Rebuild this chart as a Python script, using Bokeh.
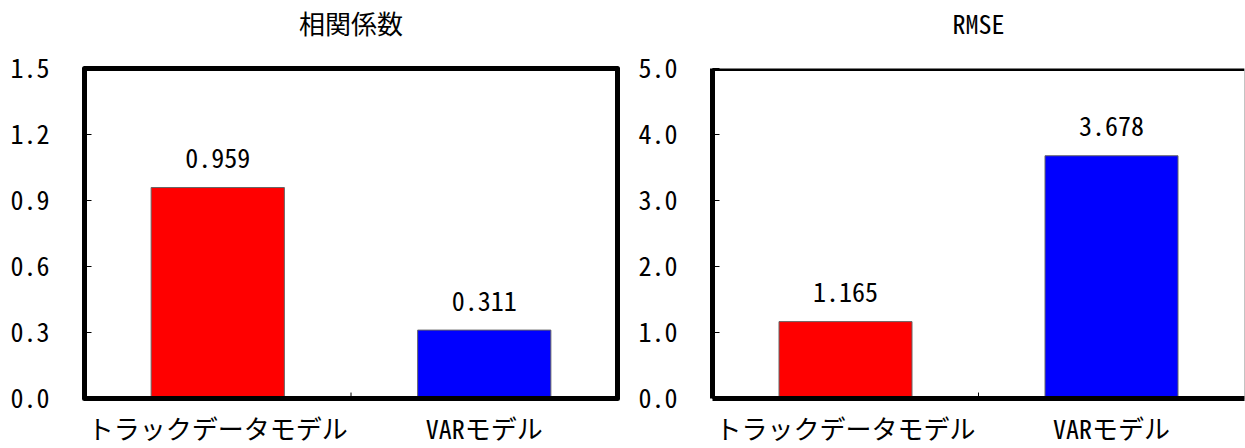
from bokeh.plotting import figure
from bokeh.layouts import row, column
from bokeh.models import (ColumnDataSource, FactorRange, Range1d, FixedTicker,
                          PrintfTickFormatter, Span)
from bokeh.transform import dodge
from bokeh.core.properties import value
from bokeh.embed import file_html
from bokeh.resources import INLINE

# Model names and scores
models = ["トラックデータモデル", "VARモデル"]
corr_values = [0.959, 0.311]
rmse_values = [1.165, 3.678]
bar_colors = ["#ff0000", "#0000ff"]

# Axis ticks for each panel
corr_ticks = [0.0, 0.3, 0.6, 0.9, 1.2, 1.5]
rmse_ticks = [0.0, 1.0, 2.0, 3.0, 4.0, 5.0]

FONT = "Noto Sans Mono CJK JP, Noto Sans CJK JP"
SIZE = "26px"
HEADING_H = 44          # strip holding each panel heading
PLOT_H = 448 - HEADING_H
FRAME_TOP = 68 - HEADING_H
FRAME_BOTTOM = 47


def heading(title, width, border_left, border_right):
    h = figure(x_range=Range1d(0, 1), y_range=Range1d(0, HEADING_H),
               width=width, height=HEADING_H, output_backend="svg",
               toolbar_location=None, x_axis_location=None,
               y_axis_location=None,
               min_border_left=border_left, min_border_right=border_right,
               min_border_top=0, min_border_bottom=0)
    h.outline_line_color = None
    h.grid.visible = False
    h.background_fill_color = "white"
    h.border_fill_color = "white"
    h.text(x=[0.5], y=[HEADING_H / 2], text=[title],
           text_align="center", text_baseline="middle",
           text_font=value(FONT), text_font_size=SIZE, text_color="black")
    return h


def panel(values, ticks, width, border_left, border_right, closed_frame):
    ymax = ticks[-1]
    p = figure(x_range=FactorRange(*models), y_range=Range1d(0, ymax),
               width=width, height=PLOT_H, output_backend="svg",
               toolbar_location=None,
               min_border_left=border_left, min_border_right=border_right,
               min_border_top=FRAME_TOP, min_border_bottom=FRAME_BOTTOM)
    p.background_fill_color = "white"
    p.border_fill_color = "white"
    p.grid.visible = False

    src = ColumnDataSource(dict(
        model=models,
        value=values,
        color=bar_colors,
        label=["%.3f" % v for v in values],
    ))
    p.vbar(x="model", top="value", width=0.5, source=src,
           fill_color="color", line_color="#666666", line_width=1)
    p.text(x="model", y="value", text="label", source=src,
           text_align="center", text_baseline="alphabetic", y_offset=-29,
           text_font=value(FONT), text_font_size=SIZE, text_color="black")

    # short tick marking the boundary between the two categories
    frame_h = PLOT_H - FRAME_TOP - FRAME_BOTTOM
    tick_len = 6 * ymax / frame_h
    tsrc = ColumnDataSource(dict(x=models[:-1], y0=[0.0] * (len(models) - 1),
                                 y1=[tick_len] * (len(models) - 1)))
    p.segment(x0=dodge("x", 0.5, range=p.x_range), y0="y0",
              x1=dodge("x", 0.5, range=p.x_range), y1="y1",
              source=tsrc, line_color="black", line_width=1)

    # y axis
    ya = p.yaxis[0]
    ya.ticker = FixedTicker(ticks=ticks)
    ya.formatter = PrintfTickFormatter(format="%.1f")
    ya.major_label_text_font = FONT
    ya.major_label_text_font_size = SIZE
    ya.major_label_text_color = "black"
    ya.major_label_standoff = 35
    ya.major_tick_in = 7
    ya.major_tick_out = 0
    ya.major_tick_line_color = "black"
    ya.minor_tick_in = 0
    ya.minor_tick_out = 0
    ya.axis_line_width = 5
    ya.axis_line_color = "black"

    # x axis
    xa = p.xaxis[0]
    xa.major_label_text_font = FONT
    xa.major_label_text_font_size = SIZE
    xa.major_label_text_color = "black"
    xa.major_label_standoff = 10
    xa.major_tick_in = 0
    xa.major_tick_out = 0
    xa.axis_line_width = 5
    xa.axis_line_color = "black"

    if closed_frame:
        p.outline_line_color = "black"
        p.outline_line_width = 5
        p.outline_line_join = "round"
    else:
        # right edge runs off the page: thick top, thin grey right side
        p.outline_line_color = None
        p.add_layout(Span(location=ymax, dimension="width",
                          line_color="black", line_width=5))
        p.add_layout(Span(location=0, dimension="height",
                          line_color="black", line_width=5))
        p.add_layout(Span(location=0, dimension="width",
                          line_color="black", line_width=5))
        p.add_layout(Span(location=len(models), dimension="height",
                          line_color="#888888", line_width=1))
    return p


left = column(heading("相関係数", 628, 84, 11),
              panel(corr_values, corr_ticks, 628, 84, 11, True))
right = column(heading("RMSE", 617, 84, 1),
               panel(rmse_values, rmse_ticks, 617, 84, 1, False))

layout = row(left, right)
open("out.html", "w").write(file_html(layout, INLINE))
